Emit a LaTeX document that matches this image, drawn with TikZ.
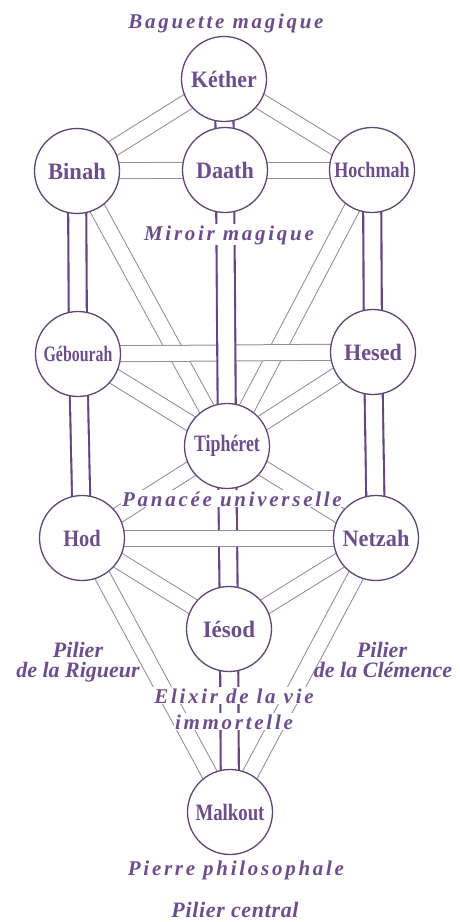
\documentclass[tikz,border=0pt]{standalone}
\usepackage{graphicx}
\usepackage{fontspec}
\setmainfont{Liberation Serif}
\newfontfamily\spfont{Liberation Serif}[LetterSpace=13]
\newfontfamily\lsfont{Liberation Serif}[LetterSpace=3]
\definecolor{txtc}{RGB}{108,78,138}
\definecolor{circc}{RGB}{95,70,115}
\definecolor{thickc}{RGB}{100,70,130}
\definecolor{thinc}{RGB}{148,138,160}
\newcommand{\sx}[2]{\scalebox{#1}[1]{#2}}
\pgfdeclarelayer{bg}
\pgfsetlayers{bg,main}
\tikzset{
  seph/.style={circle, draw=circc, fill=white, line width=1.3pt, minimum size=85pt, inner sep=0pt,
    text=txtc, font=\fontsize{23.5}{23.5}\selectfont\bfseries},
  thinpath/.style={draw=thinc, line width=1pt, double=white, double distance=15pt},
  thickpath/.style={draw=thickc, line width=2.1pt, double=white, double distance=16pt},
  caption/.style={text=txtc, anchor=base, inner sep=1pt, font=\spfont\fontsize{21}{21}\selectfont\bfseries\itshape},
  capfill/.style={caption, fill=white},
  pillar/.style={text=txtc, anchor=base, inner sep=0pt, font=\fontsize{22}{22}\selectfont\bfseries\itshape}
}
\begin{document}
\begin{tikzpicture}[x=1pt,y=-1pt]
\useasboundingbox (0,0) rectangle (459,922);
% sephiroth
\node[seph] (kether)   at (224,79)  {\sx{0.93}{Kéther}};
\node[seph] (binah)    at (77,171)  {\sx{0.96}{Binah}};
\node[seph] (daath)    at (225,170) {\sx{0.94}{Daath}};
\node[seph] (hochmah)  at (372,170) {\fontsize{22}{22}\selectfont\sx{0.82}{Hochmah}};
\node[seph] (gebourah) at (78,354)  {\fontsize{22}{22}\selectfont\sx{0.72}{Gébourah}};
\node[seph] (hesed)    at (373,352) {\sx{0.94}{Hesed}};
\node[seph] (tiph)     at (227,446) {\sx{0.76}{Tiphéret}};
\node[seph] (hod)      at (82,538)  {\sx{0.87}{Hod}};
\node[seph] (netzah)   at (376,538) {\sx{0.95}{Netzah}};
\node[seph] (iesod)    at (229,629) {\sx{0.98}{Iésod}};
\node[seph] (malkout)  at (230,812) {\sx{0.8}{Malkout}};
% paths
\begin{pgfonlayer}{bg}
\draw[thinpath] (kether.center) -- (binah.center);
\draw[thinpath] (kether.center) -- (hochmah.center);
\draw[thinpath] (binah.center) -- (daath.center);
\draw[thinpath] (daath.center) -- (hochmah.center);
\draw[thinpath] (binah.center) -- (tiph.center);
\draw[thinpath] (hochmah.center) -- (tiph.center);
\draw[thinpath] (gebourah.center) -- (tiph.center);
\draw[thinpath] (hesed.center) -- (tiph.center);
\draw[thinpath] (tiph.center) -- (hod.center);
\draw[thinpath] (tiph.center) -- (netzah.center);
\draw[thinpath] (hod.center) -- (iesod.center);
\draw[thinpath] (netzah.center) -- (iesod.center);
\draw[thinpath] (hod.center) -- (malkout.center);
\draw[thinpath] (netzah.center) -- (malkout.center);
\draw[thinpath] (gebourah.center) -- (hesed.center);
\draw[thickpath] (kether.center) -- (daath.center);
\draw[thickpath] (daath.center) -- (tiph.center);
\draw[thickpath] (tiph.center) -- (iesod.center);
\draw[thickpath] (iesod.center) -- (malkout.center);
\draw[thickpath] (binah.center) -- (gebourah.center);
\draw[thickpath] (gebourah.center) -- (hod.center);
\draw[thickpath] (hochmah.center) -- (hesed.center);
\draw[thickpath] (hesed.center) -- (netzah.center);
\draw[thinpath] (hod.center) -- (netzah.center);
\end{pgfonlayer}
% captions
\node[caption] (baguette) at (226,28) {Baguette magique};
\node[capfill] (miroir) at (229,240) {Miroir magique};
\node[capfill] (panacee) at (232,506) {Panacée universelle};
\node[capfill] (elixir1) at (234,703) {Elixir de la vie};
\node[capfill] (elixir2) at (234,729) {immortelle};
\node[caption] (pierre) at (236,875) {Pierre philosophale};
\node[pillar] (rig1) at (78,657) {Pilier};
\node[pillar] (rig2) at (78,677) {de la Rigueur};
\node[pillar] (cle1) at (382,657) {Pilier};
\node[pillar] (cle2) at (383,677) {de la Clémence};
\node[pillar, font=\lsfont\fontsize{22}{22}\selectfont\bfseries\itshape] (central) at (235,917) {Pilier central};
\end{tikzpicture}
\end{document}
